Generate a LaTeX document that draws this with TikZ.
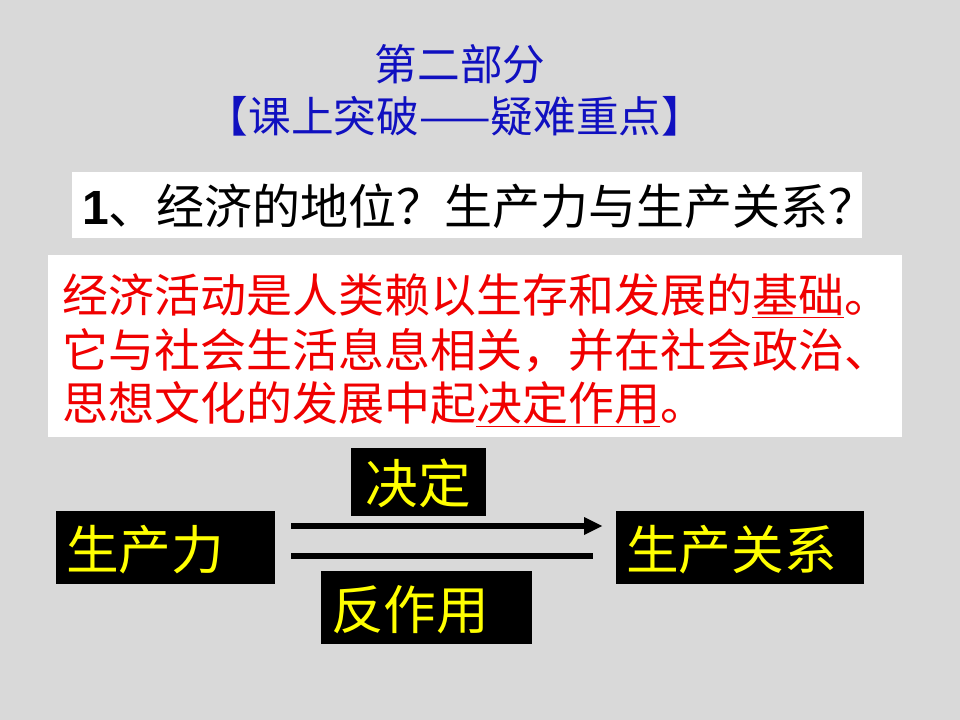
\documentclass[tikz,border=0pt]{standalone}
\usepackage{fontspec}
\setmainfont{Liberation Sans}
\newfontfamily\cjk{Noto Sans CJK SC}
\definecolor{bg}{HTML}{D9D9D9}
\definecolor{tblue}{HTML}{1010C0}
\definecolor{tred}{HTML}{F00000}
\definecolor{tyel}{HTML}{FFFF00}
\begin{document}
\begin{tikzpicture}[x=0.75pt,y=-0.75pt,
  blk/.style={fill=black,draw=none},
  ytxt/.style={text=tyel,font=\cjk\fontsize{39.5}{44}\selectfont,inner sep=0pt},
  rtxt/.style={text=tred,font=\cjk\fontsize{34.5}{40}\selectfont,anchor=west,inner sep=0pt},
  conn/.style={line width=4.5pt}]
\fill[bg] (0,0) rectangle (960,720);
\node[text=tblue,font=\cjk\fontsize{32}{36}\selectfont] (t1) at (460,64) {第二部分};
\node[text=tblue,font=\cjk\fontsize{32}{36}\selectfont] (t2) at (455,116) {【课上突破——疑难重点】};
\fill[white] (72,172) rectangle (862,238);
\node[anchor=west,inner sep=0pt,font=\fontsize{36}{40}\selectfont] (q) at (82,206) {\textbf{1}\cjk、经济的地位？生产力与生产关系？};
\fill[white] (48,255) rectangle (902,437);
\node[rtxt] (l1) at (62,296) {经济活动是人类赖以生存和发展的\underline{基础}。};
\node[rtxt] (l2) at (62,350) {它与社会生活息息相关，并在社会政治、};
\node[rtxt] (l3) at (62,404) {思想文化的发展中起\underline{决定作用}。};
\fill[blk] (351,448) rectangle (486,516);
\node[ytxt] (jd) at (418,483) {决定};
\fill[blk] (56,511) rectangle (275,584);
\node[ytxt,anchor=west] (scl) at (66,550) {生产力};
\fill[blk] (616,511) rectangle (864,584);
\node[ytxt,anchor=west] (scgx) at (626,550) {生产关系};
\fill[blk] (321,571) rectangle (532,644);
\node[ytxt] (fzy) at (410,610) {反作用};
\coordinate (a1) at (291,526); \coordinate (a2) at (602,526);
\coordinate (b1) at (291,556); \coordinate (b2) at (593,556);
\draw[conn] (a1) -- (584,526);
\fill (584,517) -- (602,526) -- (584,535) -- cycle;
\draw[conn] (b1) -- (b2);
\end{tikzpicture}
\end{document}
